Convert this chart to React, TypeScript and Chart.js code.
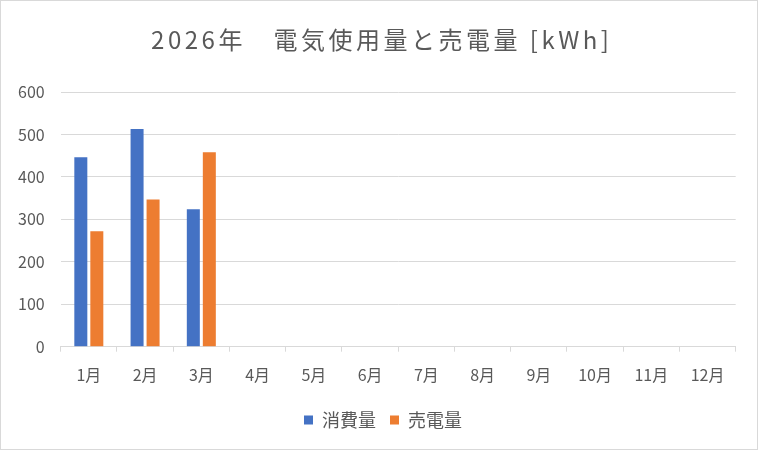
import React, { useRef, useEffect } from 'react';
import { Chart, registerables } from 'chart.js';
import type { Plugin } from 'chart.js';

Chart.register(...registerables);

// 月ごとのデータ
const months = ['1月', '2月', '3月', '4月', '5月', '6月', '7月', '8月', '9月', '10月', '11月', '12月'];
const consumption: (number | null)[] = [446, 513, 324, null, null, null, null, null, null, null, null, null];
const sold: (number | null)[] = [272, 347, 458, null, null, null, null, null, null, null, null, null];
const titleText = '2026年　電気使用量と売電量 [kWh]';

const FONT = "'Noto Sans CJK JP', 'Noto Sans', sans-serif";
const TEXT = '#595959';
const GRID = '#d9d9d9';

// タイトルと凡例をキャンバス全体の中央に寄せる（タイトルは字間も広げる）
function centerBox(chart: any, box: any, spacing: string, extra: number) {
    if (!box || box._centered) return;
    const orig = box.draw.bind(box);
    box.draw = (...args: any[]) => {
        const ctx = chart.ctx;
        const dx = chart.width / 2 - (box.left + box.right) / 2 + extra;
        ctx.save();
        ctx.translate(dx, 0);
        ctx.letterSpacing = spacing;
        orig(...args);
        ctx.restore();
    };
    box._centered = true;
}

const centerPlugin: Plugin<'bar'> = {
    id: 'centerBoxes',
    beforeLayout(chart: any) {
        centerBox(chart, chart.titleBlock, '3.5px', 1.75);
        centerBox(chart, chart.legend, '0px', 3);
    }
};

const App: React.FC = () => {
    const canvasRef = useRef<HTMLCanvasElement | null>(null);

    useEffect(() => {
        const ctx = canvasRef.current?.getContext('2d');
        if (!ctx) return;

        const chart = new Chart(ctx, {
            type: 'bar',
            data: {
                labels: months,
                datasets: [
                    { label: '消費量', data: consumption, backgroundColor: '#4472C4', categoryPercentage: 0.569, barPercentage: 0.8125 },
                    { label: '売電量', data: sold, backgroundColor: '#ED7D31', categoryPercentage: 0.569, barPercentage: 0.8125 }
                ]
            },
            options: {
                animation: false,
                responsive: false,
                maintainAspectRatio: false,
                layout: { padding: { top: 20, left: 10.7, right: 24.3, bottom: 13 } },
                plugins: {
                    title: {
                        display: true,
                        text: titleText,
                        color: TEXT,
                        font: { family: FONT, size: 24, weight: 'normal', lineHeight: 1.2 },
                        padding: { top: 5.6, bottom: 37.6 }
                    },
                    legend: {
                        position: 'bottom',
                        labels: {
                            color: TEXT,
                            font: { family: FONT, size: 18 },
                            boxWidth: 9,
                            boxHeight: 9,
                            padding: 14
                        }
                    },
                    tooltip: { enabled: false }
                },
                scales: {
                    x: {
                        offset: true,
                        grid: { display: true, drawOnChartArea: false, drawTicks: true, tickLength: 5, offset: true, color: GRID },
                        border: { display: true, color: GRID },
                        ticks: { color: TEXT, font: { family: FONT, size: 16 }, padding: 14, maxRotation: 0 },
                        afterFit: (scale: any) => { scale.height = 50.3; }
                    },
                    y: {
                        min: 0,
                        max: 600,
                        ticks: { stepSize: 100, color: TEXT, font: { family: FONT, size: 16 }, padding: 16 },
                        grid: { color: GRID, drawTicks: false },
                        border: { display: false },
                        afterFit: (scale: any) => { scale.width = 50; }
                    }
                }
            },
            plugins: [centerPlugin]
        });

        return () => {
            chart.destroy();
        };
    }, []);

    return (
        <div style={{ position: 'fixed', left: 0, top: 0, width: 760, height: 452, background: '#fff' }}>
            <canvas ref={canvasRef} width={760} height={452} style={{ width: 760, height: 452, display: 'block' }} />
            <div style={{ position: 'absolute', left: 0, top: 0, width: 758, height: 450, boxSizing: 'border-box', border: '1px solid #d9d9d9', pointerEvents: 'none' }} />
        </div>
    );
};

export default App;
